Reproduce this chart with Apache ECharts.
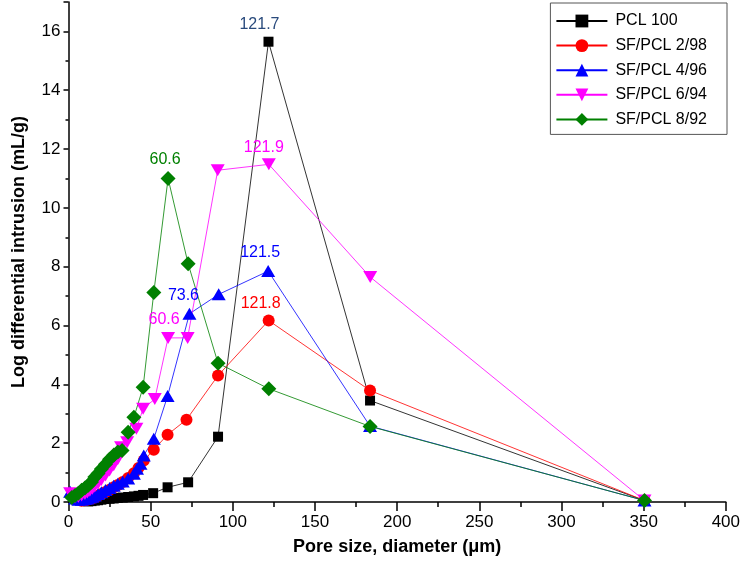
<!DOCTYPE html>
<html>
<head>
<meta charset="utf-8">
<script src="https://cdn.jsdelivr.net/npm/echarts@6/dist/echarts.min.js"></script>
<style>
html,body{margin:0;padding:0;background:#fff;}
#chart{width:743px;height:569px;}
</style>
</head>
<body>
<div id="chart"></div>
<script>
// ---- data ----
const seriesNames = ['PCL 100', 'SF/PCL 2/98', 'SF/PCL 4/96', 'SF/PCL 6/94', 'SF/PCL 8/92'];

const pclX = [12, 14, 16, 18, 20, 22.5, 25, 27.5, 30, 33, 36.3, 39.8, 42.6, 45.4, 51.5, 60.3, 72.8, 91.0, 121.7, 183.5, 350.5];
const pclY = [0.02, 0.03, 0.05, 0.06, 0.08, 0.1, 0.11, 0.12, 0.14, 0.15, 0.17, 0.19, 0.21, 0.24, 0.3, 0.5, 0.67, 2.22, 15.65, 3.45, 0.05];

const sf2X = [8, 10, 11.5, 13, 14.5, 16, 18, 20, 22.5, 25, 27.5, 30, 33, 36.3, 39.8, 42.6, 45.8, 51.9, 60.3, 71.8, 91.0, 121.8, 183.5, 350.5];
const sf2Y = [0.04, 0.06, 0.08, 0.1, 0.13, 0.16, 0.21, 0.27, 0.34, 0.42, 0.5, 0.58, 0.68, 0.82, 0.98, 1.16, 1.41, 1.78, 2.29, 2.8, 4.3, 6.17, 3.79, 0.05];

const sf4X = [1, 4, 6, 8, 10, 11.5, 13, 14.5, 16, 18, 20, 22.5, 25, 27.5, 30, 33, 36.3, 39.8, 41.7, 43.8, 45.8, 51.9, 60.3, 73.6, 91.4, 121.5, 183.5, 350.5];
const sf4Y = [0.35, 0.12, 0.08, 0.08, 0.1, 0.12, 0.15, 0.18, 0.22, 0.27, 0.33, 0.41, 0.48, 0.55, 0.62, 0.7, 0.8, 0.96, 1.13, 1.3, 1.58, 2.15, 3.6, 6.4, 7.06, 7.85, 2.58, 0.05];

const sf6X = [1, 4, 6, 8, 10, 11.5, 13, 14.5, 16, 18, 20, 22.5, 25, 27.5, 30, 32, 35.7, 41.3, 45.4, 52.5, 60.6, 72.5, 90.8, 121.9, 183.6, 350.5];
const sf6Y = [0.3, 0.15, 0.18, 0.22, 0.27, 0.32, 0.38, 0.45, 0.53, 0.63, 0.75, 0.9, 1.07, 1.25, 1.45, 1.86, 2.03, 2.49, 3.17, 3.5, 5.58, 5.58, 11.28, 11.48, 7.65, 0.05];

const sf8X = [2, 4, 6, 8, 10, 12, 14, 16, 18, 20, 22.5, 25, 27.6, 30, 32.6, 36.3, 39.8, 45.4, 51.9, 60.6, 72.8, 91.0, 121.9, 183.5, 350.5];
const sf8Y = [0.15, 0.22, 0.3, 0.4, 0.48, 0.57, 0.68, 0.85, 0.97, 1.12, 1.28, 1.45, 1.6, 1.7, 1.75, 2.37, 2.88, 3.9, 7.12, 11.0, 8.1, 4.72, 3.85, 2.57, 0.05];

// which points carry a value label (index into the arrays)
const pclLabelIdx = [18];
const sf2LabelIdx = [21];
const sf4LabelIdx = [23, 25];
const sf6LabelIdx = [20, 23];
const sf8LabelIdx = [19];

// ---- styling ----
const FONT = '"Liberation Sans", Arial, sans-serif';
const labelOffsets = {
  'PCL 100': {18: [-9, -17]},
  'SF/PCL 2/98': {21: [-8, -17]},
  'SF/PCL 4/96': {23: [-6, -18], 25: [-8, -19]},
  'SF/PCL 6/94': {20: [-4, -18], 23: [-5, -17]},
  'SF/PCL 8/92': {19: [-3, -19]}
};

function build(name, xs, ys, labelIdx, color, labelColor, symbol, size, rotate) {
  const data = xs.map((x, i) => {
    const item = {value: [x, ys[i]]};
    if (labelIdx.indexOf(i) >= 0) {
      item.label = {
        show: true,
        position: 'inside',
        offset: labelOffsets[name][i],
        formatter: String(x),
        color: labelColor,
        fontFamily: FONT,
        fontSize: 16
      };
    }
    return item;
  });
  return {
    name: name,
    type: 'line',
    data: data,
    symbol: symbol,
    symbolSize: size,
    symbolRotate: rotate || 0,
    showAllSymbol: true,
    clip: false,
    lineStyle: {color: color, width: 0.8},
    itemStyle: {color: color, borderWidth: 0},
    label: {show: false},
    emphasis: {disabled: true}
  };
}

const chart = echarts.init(document.getElementById('chart'), null, {renderer: 'canvas'});
const axisLineStyle = {color: '#000', width: 1.5};
const option = {
  animation: false,
  backgroundColor: '#fff',
  grid: {left: 68.5, right: 13.7, top: 2, bottom: 67, containLabel: false},
  xAxis: {
    type: 'value', min: 0, max: 400, interval: 50,
    name: 'Pore size, diameter (μm)', nameLocation: 'middle', nameGap: 36,
    nameTextStyle: {fontFamily: FONT, fontWeight: 'bold', fontSize: 18, color: '#000'},
    axisLine: {show: true, onZero: false, lineStyle: axisLineStyle},
    axisTick: {show: true, inside: false, length: 9, lineStyle: axisLineStyle},
    minorTick: {show: true, splitNumber: 2, length: 5, lineStyle: axisLineStyle},
    axisLabel: {fontFamily: FONT, fontSize: 17, color: '#000', margin: 12},
    splitLine: {show: false}
  },
  yAxis: {
    type: 'value', min: 0, max: 17, interval: 2,
    name: 'Log differential intrusion (mL/g)', nameLocation: 'middle', nameGap: 40,
    nameTextStyle: {fontFamily: FONT, fontWeight: 'bold', fontSize: 18, color: '#000'},
    axisLine: {show: true, onZero: false, lineStyle: axisLineStyle},
    axisTick: {show: true, inside: false, length: 5, lineStyle: axisLineStyle},
    minorTick: {show: true, splitNumber: 2, length: 3, lineStyle: axisLineStyle},
    axisLabel: {fontFamily: FONT, fontSize: 17, color: '#000', margin: 8,
      formatter: v => (v % 2 === 0 ? String(v) : '')},
    splitLine: {show: false}
  },
  legend: {
    orient: 'vertical', right: 16, top: 3,
    backgroundColor: '#fff', borderColor: '#555', borderWidth: 1,
    padding: [10, 20, 7, 5],
    itemWidth: 51, itemHeight: 16, itemGap: 8.6,
    textStyle: {fontFamily: FONT, fontSize: 16, color: '#000', padding: [0, 0, 0, 3]},
    data: seriesNames
  },
  series: [
    build(seriesNames[0], pclX, pclY, pclLabelIdx, '#000000', '#294a7c', 'rect', 10),
    build(seriesNames[1], sf2X, sf2Y, sf2LabelIdx, '#ff0000', '#ff0000', 'circle', 12),
    build(seriesNames[2], sf4X, sf4Y, sf4LabelIdx, '#0000ff', '#0000ff', 'triangle', [14, 12]),
    build(seriesNames[3], sf6X, sf6Y, sf6LabelIdx, '#ff00ff', '#ff00ff', 'triangle', [14, 12], 180),
    build(seriesNames[4], sf8X, sf8Y, sf8LabelIdx, '#008000', '#008000', 'diamond', [15, 15])
  ]
};
chart.setOption(option);
</script>
</body>
</html>
